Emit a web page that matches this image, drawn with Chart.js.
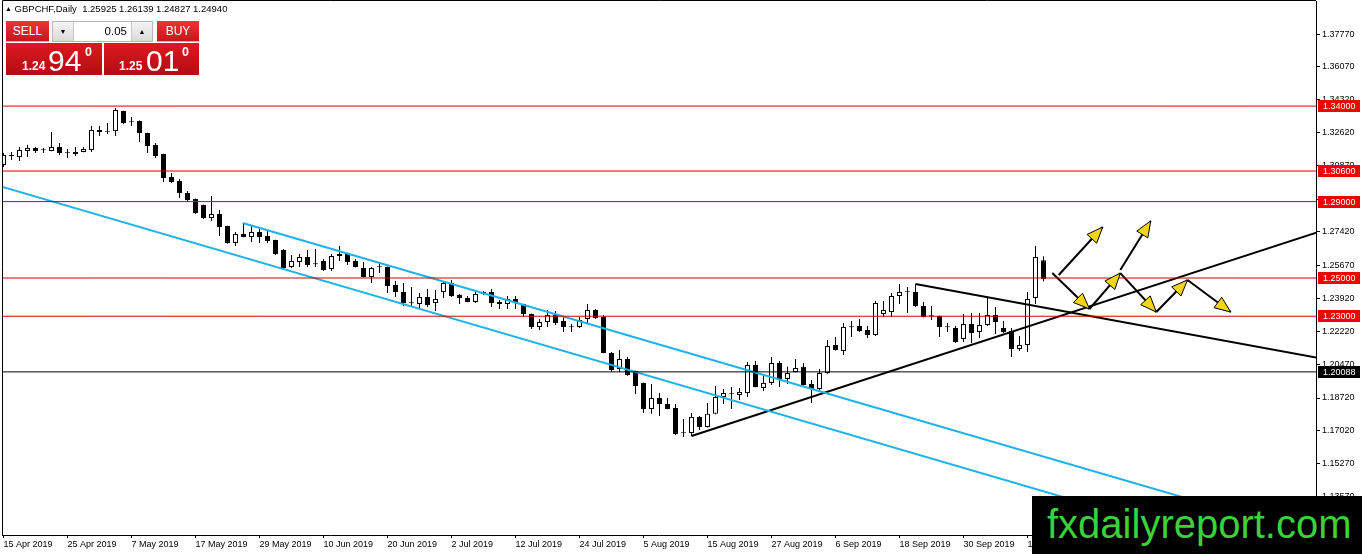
<!DOCTYPE html>
<html>
<head>
<meta charset="utf-8">
<title>GBPCHF Daily</title>
<script src="https://cdn.jsdelivr.net/npm/chart.js@4.4.1/dist/chart.umd.min.js"></script>
<style>
  body { margin: 0; background: #fff; overflow: hidden; font-family: "Liberation Sans", Arial, sans-serif; }
  #wrap { position: relative; width: 1362px; height: 554px; }
  #chart { position: absolute; left: 0; top: 0; }
  .hdr { position: absolute; left: 5px; top: 3px; font-size: 9.5px; line-height: 12px; color: #000; white-space: pre; }
  .hdr .tri { font-size: 7px; vertical-align: 1px; }
  .btn { position: absolute; top: 21px; height: 20px; line-height: 20px; color: #fff; font-size: 12px; text-align: center;
         background: linear-gradient(#e9343a, #c8161c); border-bottom: 1px solid #f2a0a2; }
  .sell { left: 6px; width: 43px; }
  .buy { left: 157px; width: 42px; }
  .spin { position: absolute; left: 52px; top: 21px; width: 99px; height: 19px; border: 1px solid #b8b8b8; background: #fff; }
  .spin .arr { position: absolute; top: 0; width: 20px; height: 19px; line-height: 19px; text-align: center; font-size: 7px;
               background: linear-gradient(#f4f4f4, #dadada); }
  .spin .dn { left: 0; border-right: 1px solid #c8c8c8; }
  .spin .up { right: 0; border-left: 1px solid #c8c8c8; }
  .spin .val { position: absolute; right: 25px; top: 0; line-height: 19px; font-size: 11.5px; color: #000; }
  .quote { position: absolute; top: 43px; height: 32px; color: #fff; background: linear-gradient(#dc1a20, #b30c11); }
  .q1 { left: 6px; width: 96px; }
  .q2 { left: 104px; width: 95px; }
  .quote span { position: absolute; line-height: 1; white-space: pre; }
  .quote .s { font-size: 12px; font-weight: bold; top: 17px; }
  .quote .b { font-size: 30px; top: 3px; }
  .quote .p { font-size: 12.5px; font-weight: bold; top: 3px; }
  .wm { position: absolute; left: 1032px; top: 496px; width: 330px; height: 58px; background: #000; }
  .wm span { position: absolute; left: 15px; top: 5px; font-size: 40px; line-height: 46px; color: #3ad23a; white-space: pre; }
</style>
</head>
<body>
<div id="wrap">
  <canvas id="chart" width="1362" height="554"></canvas>

  <div class="hdr"><span class="tri">▲</span> GBPCHF,Daily  1.25925 1.26139 1.24827 1.24940</div>

  <div class="btn sell">SELL</div>
  <div class="spin">
    <div class="arr dn">▼</div>
    <div class="val">0.05</div>
    <div class="arr up">▲</div>
  </div>
  <div class="btn buy">BUY</div>

  <div class="quote q1"><span class="s" style="left:16px">1.24</span><span class="b" style="left:42px">94</span><span class="p" style="left:79px">0</span></div>
  <div class="quote q2"><span class="s" style="left:15px">1.25</span><span class="b" style="left:42px">01</span><span class="p" style="left:78px">0</span></div>

  <div class="wm"><span>fxdailyreport.com</span></div>
</div>

<script>
// daily candles, one per trading day (index 0 = 15 Apr 2019)
const OPEN = [
  1.3092, 1.3141, 1.3133, 1.3165, 1.3181, 1.3171, 1.3165, 1.3186, 1.3155, 1.3149,
  1.3160, 1.3170, 1.3275, 1.3265, 1.3269, 1.3374, 1.3318, 1.3322, 1.3259, 1.3196,
  1.3149, 1.3029, 1.3008, 1.2945, 1.2914, 1.2882, 1.2814, 1.2835, 1.2772, 1.2684,
  1.2731, 1.2715, 1.2741, 1.2720, 1.2699, 1.2647, 1.2558, 1.2584, 1.2610, 1.2574,
  1.2589, 1.2547, 1.2626, 1.2626, 1.2589, 1.2553, 1.2505, 1.2559, 1.2558, 1.2464,
  1.2427, 1.2370, 1.2364, 1.2401, 1.2369, 1.2427, 1.2474, 1.2411, 1.2396, 1.2375,
  1.2417, 1.2427, 1.2375, 1.2364, 1.2390, 1.2364, 1.2312, 1.2244, 1.2270, 1.2307,
  1.2275, 1.2245, 1.2244, 1.2286, 1.2333, 1.2296, 1.2108, 1.2024, 1.2076, 1.2014,
  1.1951, 1.1815, 1.1872, 1.1841, 1.1820, 1.1690, 1.1689, 1.1773, 1.1720, 1.1789,
  1.1877, 1.1894, 1.1888, 1.1898, 1.2045, 1.1925, 1.1951, 1.2055, 1.1972, 1.2008,
  1.2035, 1.1946, 1.1919, 1.2003, 1.2150, 1.2118, 1.2245, 1.2249, 1.2228, 1.2202,
  1.2312, 1.2322, 1.2406, 1.2428, 1.2427, 1.2354, 1.2302, 1.2301, 1.2245, 1.2239,
  1.2181, 1.2259, 1.2218, 1.2254, 1.2307, 1.2239, 1.2223, 1.2129, 1.2150, 1.2396,
  1.25925
];
const HIGH = [
  1.3154, 1.3160, 1.3186, 1.3196, 1.3186, 1.3181, 1.3264, 1.3207, 1.3175, 1.3186,
  1.3186, 1.3296, 1.3296, 1.3311, 1.3390, 1.3376, 1.3343, 1.3324, 1.3261, 1.3207,
  1.3151, 1.3050, 1.3018, 1.2956, 1.2916, 1.2884, 1.2929, 1.2856, 1.2774, 1.2741,
  1.2788, 1.2778, 1.2757, 1.2746, 1.2701, 1.2652, 1.2621, 1.2626, 1.2647, 1.2652,
  1.2600, 1.2626, 1.2668, 1.2631, 1.2600, 1.2584, 1.2558, 1.2579, 1.2560, 1.2485,
  1.2474, 1.2453, 1.2422, 1.2443, 1.2437, 1.2479, 1.2490, 1.2417, 1.2406, 1.2427,
  1.2432, 1.2443, 1.2385, 1.2406, 1.2406, 1.2366, 1.2314, 1.2286, 1.2333, 1.2328,
  1.2296, 1.2259, 1.2296, 1.2364, 1.2338, 1.2307, 1.2113, 1.2123, 1.2087, 1.2016,
  1.1953, 1.1946, 1.1898, 1.1872, 1.1841, 1.1762, 1.1794, 1.1778, 1.1846, 1.1935,
  1.1919, 1.1930, 1.1925, 1.2061, 1.2066, 1.1998, 1.2087, 1.2066, 1.2035, 1.2076,
  1.2055, 1.1966, 1.2024, 1.2176, 1.2192, 1.2265, 1.2275, 1.2286, 1.2249, 1.2380,
  1.2380, 1.2422, 1.2469, 1.2453, 1.2469, 1.2375, 1.2354, 1.2303, 1.2265, 1.2249,
  1.2312, 1.2317, 1.2317, 1.2401, 1.2348, 1.2275, 1.2239, 1.2197, 1.2427, 1.2668,
  1.26139
];
const LOW = [
  1.3081, 1.3118, 1.3112, 1.3133, 1.3154, 1.3154, 1.3163, 1.3144, 1.3128, 1.3139,
  1.3158, 1.3160, 1.3243, 1.3254, 1.3243, 1.3306, 1.3296, 1.3212, 1.3154, 1.3128,
  1.3003, 1.2997, 1.2919, 1.2898, 1.2835, 1.2809, 1.2798, 1.2720, 1.2679, 1.2668,
  1.2713, 1.2689, 1.2684, 1.2684, 1.2621, 1.2550, 1.2553, 1.2558, 1.2558, 1.2558,
  1.2537, 1.2537, 1.2589, 1.2568, 1.2555, 1.2503, 1.2474, 1.2526, 1.2422, 1.2401,
  1.2354, 1.2354, 1.2343, 1.2348, 1.2328, 1.2396, 1.2401, 1.2364, 1.2373, 1.2369,
  1.2411, 1.2348, 1.2338, 1.2338, 1.2338, 1.2296, 1.2233, 1.2228, 1.2244, 1.2254,
  1.2218, 1.2218, 1.2239, 1.2265, 1.2286, 1.2106, 1.2008, 1.2008, 1.1988, 1.1893,
  1.1794, 1.1789, 1.1778, 1.1813, 1.1679, 1.1668, 1.1673, 1.1705, 1.1718, 1.1787,
  1.1841, 1.1815, 1.1862, 1.1877, 1.1928, 1.1909, 1.1940, 1.1930, 1.1946, 1.2006,
  1.1938, 1.1846, 1.1914, 1.1998, 1.2121, 1.2097, 1.2192, 1.2218, 1.2186, 1.2197,
  1.2296, 1.2296, 1.2364, 1.2317, 1.2348, 1.2294, 1.2280, 1.2192, 1.2218, 1.2160,
  1.2165, 1.2160, 1.2186, 1.2249, 1.2207, 1.2212, 1.2087, 1.2118, 1.2113, 1.2364,
  1.24827
];
const CLOSE = [
  1.3144, 1.3139, 1.3170, 1.3181, 1.3165, 1.3169, 1.3186, 1.3154, 1.3153, 1.3160,
  1.3175, 1.3275, 1.3264, 1.3263, 1.3379, 1.3311, 1.3316, 1.3259, 1.3191, 1.3139,
  1.3023, 1.3003, 1.2945, 1.2908, 1.2840, 1.2814, 1.2835, 1.2767, 1.2684, 1.2731,
  1.2715, 1.2741, 1.2715, 1.2694, 1.2626, 1.2553, 1.2589, 1.2610, 1.2568, 1.2572,
  1.2542, 1.2615, 1.2615, 1.2584, 1.2558, 1.2505, 1.2553, 1.2557, 1.2458, 1.2427,
  1.2369, 1.2368, 1.2401, 1.2359, 1.2390, 1.2474, 1.2406, 1.2396, 1.2375, 1.2417,
  1.2427, 1.2369, 1.2364, 1.2390, 1.2369, 1.2312, 1.2244, 1.2270, 1.2307, 1.2265,
  1.2244, 1.2243, 1.2280, 1.2333, 1.2291, 1.2108, 1.2019, 1.2076, 1.1993, 1.1935,
  1.1815, 1.1872, 1.1841, 1.1815, 1.1684, 1.1688, 1.1773, 1.1720, 1.1789, 1.1877,
  1.1898, 1.1892, 1.1904, 1.2045, 1.1930, 1.1951, 1.2055, 1.1972, 1.2003, 1.2029,
  1.1940, 1.1919, 1.2003, 1.2144, 1.2123, 1.2244, 1.2243, 1.2223, 1.2202, 1.2369,
  1.2333, 1.2406, 1.2427, 1.2426, 1.2354, 1.2296, 1.2300, 1.2244, 1.2243, 1.2165,
  1.2259, 1.2212, 1.2254, 1.2307, 1.2270, 1.2218, 1.2129, 1.2150, 1.2390, 1.2610,
  1.24940
];

// time axis: a label every 8 bars
const X_TICK_LABELS = [
  '15 Apr 2019', '25 Apr 2019', '7 May 2019', '17 May 2019', '29 May 2019', '10 Jun 2019',
  '20 Jun 2019', '2 Jul 2019', '12 Jul 2019', '24 Jul 2019', '5 Aug 2019', '15 Aug 2019',
  '27 Aug 2019', '6 Sep 2019', '18 Sep 2019', '30 Sep 2019', '10 Oct 2019'
];
const X_TICK_STEP = 8;

// price axis
const Y_TICKS = [1.13570, 1.15270, 1.17020, 1.18720, 1.20470, 1.22220, 1.23920, 1.25670,
                 1.27420, 1.29120, 1.30870, 1.32620, 1.34320, 1.36070, 1.37770];

// horizontal levels
const RED_LEVELS = [1.34000, 1.30600, 1.29000, 1.25000, 1.23000];
const BLACK_LEVEL = 1.20088;

// drawn objects: [barIndex, price] pairs
const CHANNEL_UPPER = [[29.9, 1.2788], [170, 1.1077]];
const CHANNEL_LOWER = [[-5, 1.3037], [170, 1.0894]];
const TREND_UP = [[86, 1.1673], [170, 1.2818]];
const TREND_DOWN = [[114, 1.2469], [170, 1.2038]];
const ARROWS = [
  [[131.1, 1.2526], [135.75, 1.2338]],
  [[131.9, 1.2516], [137.4, 1.2767]],
  [[135.75, 1.2338], [139.6, 1.2526]],
  [[139.6, 1.2542], [143.4, 1.2799]],
  [[139.6, 1.2526], [144.1, 1.2322]],
  [[144.1, 1.2322], [148.0, 1.2490]],
  [[148.0, 1.2490], [153.4, 1.2322]]
];

// visible window
const X_MIN = -0.1875, X_MAX = 164.0625;
const Y_MIN = 1.1155, Y_MAX = 1.3950;

function pts(list) {
  return list.map(p => ({ x: p[0], y: p[1] }));
}

function lineDs(points, color, width) {
  return {
    type: 'line',
    data: pts(points),
    borderColor: color,
    borderWidth: width,
    pointRadius: 0,
    fill: false,
    tension: 0,
    order: 0
  };
}

const datasets = [];

// bodies
datasets.push({
  type: 'bar',
  data: OPEN.map((o, i) => ({ x: i, y: [o, CLOSE[i]] })),
  backgroundColor: OPEN.map((o, i) => CLOSE[i] >= o ? '#ffffff' : '#000000'),
  borderColor: '#000000',
  borderWidth: 1,
  borderSkipped: false,
  inflateAmount: 0,
  barThickness: 5,
  minBarLength: 1,
  grouped: false,
  order: 1
});

// wicks
datasets.push({
  type: 'bar',
  data: LOW.map((l, i) => ({ x: i, y: [l, HIGH[i]] })),
  backgroundColor: '#000000',
  borderWidth: 0,
  inflateAmount: 0,
  barThickness: 1,
  grouped: false,
  order: 2
});

RED_LEVELS.forEach(v => datasets.push(lineDs([[X_MIN - 10, v], [X_MAX + 10, v]], '#d20000', 1)));
datasets.push(lineDs([[X_MIN - 10, BLACK_LEVEL], [X_MAX + 10, BLACK_LEVEL]], '#000000', 1));

datasets.push(lineDs(CHANNEL_UPPER, '#1fb2e8', 2));
datasets.push(lineDs(CHANNEL_LOWER, '#1fb2e8', 2));
datasets.push(lineDs(TREND_UP, '#000000', 2));
datasets.push(lineDs(TREND_DOWN, '#000000', 2));

ARROWS.forEach(a => {
  const ds = lineDs(a, '#000000', 2);
  ds.arrow = true;
  datasets.push(ds);
});

// yellow arrow heads at the end of each arrow line
const arrowHeads = {
  id: 'arrowHeads',
  afterDatasetsDraw(chart) {
    const ctx = chart.ctx;
    chart.data.datasets.forEach((ds, di) => {
      if (!ds.arrow) return;
      const pts = chart.getDatasetMeta(di).data;
      const a = pts[pts.length - 2], b = pts[pts.length - 1];
      const ang = Math.atan2(b.y - a.y, b.x - a.x);
      const len = 16, half = 6.5;
      const bx = b.x - Math.cos(ang) * len, by = b.y - Math.sin(ang) * len;
      ctx.save();
      ctx.beginPath();
      ctx.moveTo(b.x, b.y);
      ctx.lineTo(bx + Math.sin(ang) * half, by - Math.cos(ang) * half);
      ctx.lineTo(bx - Math.sin(ang) * half, by + Math.cos(ang) * half);
      ctx.closePath();
      ctx.fillStyle = '#f4d416';
      ctx.fill();
      ctx.lineWidth = 1;
      ctx.strokeStyle = '#000000';
      ctx.stroke();
      ctx.restore();
    });
  }
};

// chart frame and level price boxes on the price axis
const frameAndLevels = {
  id: 'frameAndLevels',
  afterDraw(chart) {
    const ctx = chart.ctx;
    const area = chart.chartArea;
    const y = chart.scales.y;
    ctx.save();
    ctx.strokeStyle = '#000000';
    ctx.lineWidth = 1;
    ctx.beginPath();
    ctx.moveTo(area.left + 0.5, area.bottom);
    ctx.lineTo(area.left + 0.5, 0.5);
    ctx.lineTo(area.right, 0.5);
    ctx.stroke();

    ctx.font = '9px "Liberation Sans", Arial, sans-serif';
    ctx.textBaseline = 'middle';
    ctx.textAlign = 'left';
    const boxes = RED_LEVELS.map(v => [v, '#f00000']).concat([[BLACK_LEVEL, '#000000']]);
    boxes.forEach(([v, col]) => {
      const py = Math.round(y.getPixelForValue(v));
      ctx.fillStyle = col;
      ctx.fillRect(area.right + 2, py - 6, 42, 12);
      ctx.fillStyle = '#ffffff';
      ctx.fillText(v.toFixed(5), area.right + 7, py + 0.5);
    });
    ctx.restore();
  }
};

new Chart(document.getElementById('chart'), {
  type: 'bar',
  data: { datasets: datasets },
  options: {
    responsive: false,
    devicePixelRatio: 1,
    animation: false,
    events: [],
    layout: { padding: { left: 2, top: 1, right: 0, bottom: 0 } },
    plugins: { legend: { display: false }, tooltip: { enabled: false } },
    scales: {
      x: {
        type: 'linear',
        position: 'bottom',
        min: X_MIN,
        max: X_MAX,
        offset: false,
        grid: { display: true, drawOnChartArea: false, drawTicks: true, tickLength: 3, color: '#000000', offset: false },
        border: { display: true, color: '#000000', width: 1 },
        afterBuildTicks(scale) {
          scale.ticks = X_TICK_LABELS.map((_, k) => ({ value: k * X_TICK_STEP }));
        },
        afterFit(scale) {
          scale.height = 19;
          scale.paddingLeft = 0;
          scale.paddingRight = 0;
        },
        ticks: {
          autoSkip: false,
          maxRotation: 0,
          minRotation: 0,
          align: 'start',
          padding: 1,
          color: '#000000',
          font: { family: '"Liberation Sans", Arial, sans-serif', size: 9 },
          callback: (value, index) => X_TICK_LABELS[index]
        }
      },
      y: {
        type: 'linear',
        position: 'right',
        min: Y_MIN,
        max: Y_MAX,
        grid: { display: true, drawOnChartArea: false, drawTicks: true, tickLength: 4, color: '#000000' },
        border: { display: true, color: '#000000', width: 1 },
        afterBuildTicks(scale) {
          scale.ticks = Y_TICKS.map(v => ({ value: v }));
        },
        afterFit(scale) {
          scale.width = 46;
          scale.paddingTop = 0;
          scale.paddingBottom = 0;
        },
        ticks: {
          autoSkip: false,
          padding: 2,
          color: '#000000',
          font: { family: '"Liberation Sans", Arial, sans-serif', size: 9 },
          callback: v => v.toFixed(5)
        }
      }
    }
  },
  plugins: [arrowHeads, frameAndLevels]
});
</script>
</body>
</html>
